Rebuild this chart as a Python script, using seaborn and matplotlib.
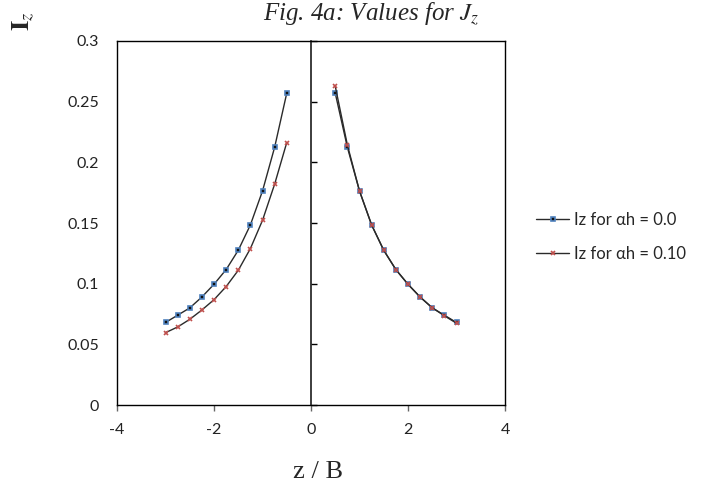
import numpy as np
import pandas as pd
import seaborn as sns
import matplotlib
matplotlib.use("Agg")
import matplotlib.pyplot as plt
from matplotlib.lines import Line2D

# ---- data ----
z_left = [-3.0, -2.75, -2.5, -2.25, -2.0, -1.75, -1.5, -1.25, -1.0, -0.75, -0.5]
z_right = [0.5, 0.75, 1.0, 1.25, 1.5, 1.75, 2.0, 2.25, 2.5, 2.75, 3.0]
iz_a00_left = [0.068, 0.074, 0.080, 0.089, 0.0995, 0.1116, 0.1275, 0.1484, 0.1764, 0.2124, 0.257]
iz_a00_right = [0.257, 0.2124, 0.1764, 0.1484, 0.1275, 0.1116, 0.0995, 0.089, 0.080, 0.074, 0.068]
iz_a10_left = [0.0596, 0.0643, 0.0706, 0.0783, 0.0868, 0.0976, 0.111, 0.1289, 0.1522, 0.182, 0.2163]
iz_a10_right = [0.2627, 0.2143, 0.1764, 0.1484, 0.1275, 0.1116, 0.0995, 0.089, 0.0802, 0.0735, 0.0674]
series_labels = ["Iz for \u03b1h = 0.0", "Iz for \u03b1h = 0.10"]
x_ticks = [-4, -2, 0, 2, 4]
y_ticks = [0, 0.05, 0.1, 0.15, 0.2, 0.25, 0.3]
y_ticklabels = ["0", "0.05", "0.1", "0.15", "0.2", "0.25", "0.3"]

df = pd.concat([
    pd.DataFrame({"z": z_left, "Iz": iz_a00_left, "side": "L", "series": series_labels[0]}),
    pd.DataFrame({"z": z_right, "Iz": iz_a00_right, "side": "R", "series": series_labels[0]}),
    pd.DataFrame({"z": z_left, "Iz": iz_a10_left, "side": "L", "series": series_labels[1]}),
    pd.DataFrame({"z": z_right, "Iz": iz_a10_right, "side": "R", "series": series_labels[1]}),
], ignore_index=True)

sns.set_theme(style="white")
tick_font = ["Lato", "DejaVu Sans"]
plt.rcParams["font.family"] = tick_font
plt.rcParams["mathtext.fontset"] = "stix"

fig = plt.figure(figsize=(7.04, 4.90), dpi=100)
ax = fig.add_axes([117/704, 1 - 405/490, (505 - 117)/704, (405 - 41)/490])

line_color = "#2a2a2a"
styles = {
    series_labels[0]: dict(marker="s", markersize=3.4, markerfacecolor="#111111",
                           markeredgecolor="#4F81BD", markeredgewidth=1.2),
    series_labels[1]: dict(marker="x", markersize=3.4, markerfacecolor="#C0504D",
                           markeredgecolor="#C0504D", markeredgewidth=1.2),
}
for s in series_labels:
    sub = df[df["series"] == s]
    sns.lineplot(data=sub, x="z", y="Iz", units="side", estimator=None, sort=False,
                 color=line_color, linewidth=1.0, ax=ax, legend=False, **styles[s])

ax.set_xlim(-4, 4)
ax.set_ylim(0, 0.3)
ax.set_xticks(x_ticks)
ax.set_xticklabels([str(t) for t in x_ticks])
ax.set_yticks(y_ticks)
ax.set_yticklabels(y_ticklabels)
ax.set_xlabel("")
ax.set_ylabel("")
for sp in ax.spines.values():
    sp.set_visible(True)
    sp.set_color("black")
    sp.set_linewidth(1.0)
ax.tick_params(axis="y", which="both", left=True, length=0, pad=13, labelsize=11.5, labelcolor="#222222")
ax.tick_params(axis="x", which="both", bottom=True, direction="out", length=4, width=1,
               color="#666666", pad=9, labelsize=11.5, labelcolor="#222222")

# vertical axis crossing at z = 0 with tick marks
sec = ax.secondary_yaxis(0.5)
sec.set_yticks(y_ticks)
sec.set_yticklabels([])
sec.tick_params(direction="out", length=4, width=1, color="black")
sec.spines["left"].set_color("black")
sec.spines["left"].set_linewidth(1.0)

# legend
handles = [Line2D([0], [0], color=line_color, linewidth=1.0, **styles[s]) for s in series_labels]
fig.legend(handles, series_labels, loc="center left", bbox_to_anchor=(536/704, 1 - 237/490),
           frameon=False, fontsize=12, handlelength=2.0, handletextpad=0.25, labelspacing=1.1,
           borderpad=0, borderaxespad=0)

# texts
fig.text(371/704, 1 - 20/490, r"Fig. 4a: Values for $J_z$", ha="center", va="baseline",
         fontsize=18, style="italic", family="Liberation Serif")
fig.text(23/704, 1 - 21/490, r"$\mathbf{I}_z$", ha="center", va="center", rotation=90,
         fontsize=19, family="Liberation Serif")
fig.text(318/704, 1 - 472/490, "z / B", ha="center", va="center",
         fontsize=19, family="Liberation Serif")

fig.savefig("out.png", dpi=100)
